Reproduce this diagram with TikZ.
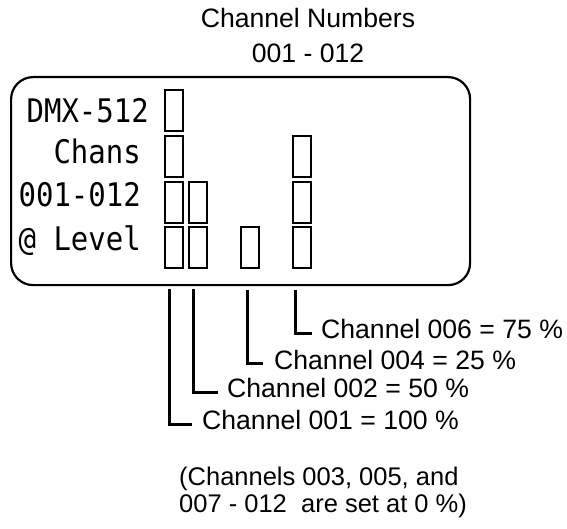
\documentclass[tikz,border=0pt]{standalone}
\usepackage{fontspec}
\setmainfont{Liberation Sans}
\newfontfamily\lcdfont{DejaVu Sans Mono}
\newcommand{\lcdtext}[1]{\scalebox{1}[1.12]{\lcdfont\fontsize{29}{30}\selectfont #1}}
\begin{document}
\begin{tikzpicture}[x=1pt,y=-1pt,
  lbl/.style={inner sep=0pt,anchor=base west,font=\fontsize{26.6}{27}\selectfont},
  lcd/.style={inner sep=0pt,anchor=base east},
  bar/.style={draw,line width=1.8pt,minimum width=18pt,minimum height=41pt,inner sep=0pt,anchor=north west},
  leader/.style={line width=3pt}]
\useasboundingbox (0,0) rectangle (567,529);
% title
\node[inner sep=0pt,anchor=base,align=center,font=\fontsize{26.6}{35}\selectfont] (title) at (308,63) {Channel Numbers\\001 - 012};
% display box
\node[draw,line width=2.2pt,rounded corners=22pt,minimum width=459pt,minimum height=208pt,inner sep=0pt,anchor=north west] (box) at (10,76) {};
% lcd text
\node[lcd] (t1) at (149,123) {\lcdtext{DMX-512}};
\node[lcd] (t2) at (141,164) {\lcdtext{Chans}};
\node[lcd] (t3) at (141,207) {\lcdtext{001-012}};
\node[lcd] (t4) at (141,251) {\lcdtext{@ Level}};
% bars
\node[bar] (b11) at (164,89) {};
\node[bar] (b12) at (164,135) {};
\node[bar] (b13) at (164,181) {};
\node[bar] (b14) at (164,226) {};
\node[bar] (b23) at (188,181) {};
\node[bar] (b24) at (188,226) {};
\node[bar] (b34) at (240,226) {};
\node[bar] (b42) at (292,135) {};
\node[bar] (b43) at (292,181) {};
\node[bar] (b44) at (292,226) {};
% labels
\node[lbl] (l6) at (321,338) {Channel 006 = 75 \%};
\node[lbl] (l4) at (274,369) {Channel 004 = 25 \%};
\node[lbl] (l2) at (227,397) {Channel 002 = 50 \%};
\node[lbl] (l1) at (202,429) {Channel 001 = 100 \%};
% leaders
\draw[leader] ([xshift=5pt]b14.south west |- box.south) ++(0,3) |- ([xshift=-10pt,yshift=5pt]l1.base west);
\draw[leader] ([xshift=5pt]b24.south west |- box.south) ++(0,3) |- ([xshift=-9pt,yshift=5pt]l2.base west);
\draw[leader] ([xshift=7pt]b34.south west |- box.south) ++(0,4) |- ([xshift=-11pt,yshift=6pt]l4.base west);
\draw[leader] ([xshift=3pt]b44.south west |- box.south) ++(0,4) |- ([xshift=-9pt,yshift=5pt]l6.base west);
% note
\node[inner sep=0pt,anchor=base west,align=left,font=\fontsize{25.5}{27}\selectfont] (note) at (179,512) {(Channels 003, 005, and\\007 - 012\ \ are set at 0 \%)};
\end{tikzpicture}
\end{document}
